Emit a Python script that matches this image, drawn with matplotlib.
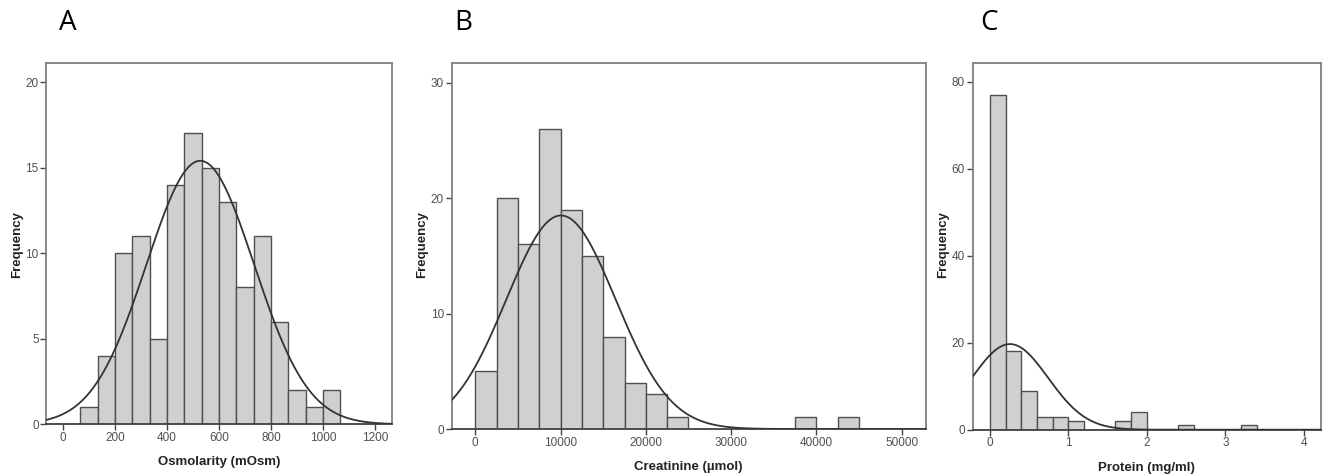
import numpy as np
import matplotlib.pyplot as plt

# ---------------- data ----------------
# Panel A: Osmolarity (mOsm)
osm_edges = [66.7, 133.3, 200.0, 266.7, 333.3, 400.0, 466.7, 533.3, 600.0,
             666.7, 733.3, 800.0, 866.7, 933.3, 1000.0, 1066.7]
osm_counts = [1, 4, 10, 11, 5, 14, 17, 15, 13, 8, 11, 6, 2, 1, 2]
osm_mean, osm_sd = 528.0, 207.0

# Panel B: Creatinine (µmol)
cre_edges = [0, 2500, 5000, 7500, 10000, 12500, 15000, 17500, 20000, 22500,
             25000, 27500, 30000, 32500, 35000, 37500, 40000, 42500, 45000]
cre_counts = [5, 20, 16, 26, 19, 15, 8, 4, 3, 1, 0, 0, 0, 0, 0, 1, 0, 1]
cre_mean, cre_sd = 10050.0, 6412.0

# Panel C: Protein (mg/ml)
pro_edges = [0.0, 0.2, 0.4, 0.6, 0.8, 1.0, 1.2, 1.4, 1.6, 1.8, 2.0, 2.2, 2.4,
             2.6, 2.8, 3.0, 3.2, 3.4]
pro_counts = [77, 18, 9, 3, 3, 2, 0, 0, 2, 4, 0, 0, 1, 0, 0, 0, 1]
pro_mean, pro_sd = 0.255, 0.486

panel_letters = ["A", "B", "C"]
x_labels = ["Osmolarity (mOsm)", "Creatinine (\u00b5mol)", "Protein (mg/ml)"]
x_ticks = [[0, 200, 400, 600, 800, 1000, 1200],
           [0, 10000, 20000, 30000, 40000, 50000],
           [0, 1, 2, 3, 4]]
y_ticks = [[0, 5, 10, 15, 20], [0, 10, 20, 30], [0, 20, 40, 60, 80]]

# ---------------- style ----------------
plt.rcParams['font.family'] = ['Liberation Sans', 'DejaVu Sans']

fig = plt.figure(figsize=(13.22, 4.76), dpi=100)

W, H = 1322.0, 476.0
# axes boxes in pixels: left, right, top, bottom
boxes = [(46.3, 391.7, 63.3, 424.3),
         (451.7, 925.7, 63.3, 429.0),
         (972.7, 1321.0, 63.3, 429.7)]
xlims = [(-64, 1264), (-2768, 52820), (-0.22, 4.22)]
ylims = [(0, 21.1), (0, 31.7), (0, 84.3)]
letter_x = [68, 463, 989]
ylabel_x = [17, 421.7, 943.3]

datasets = [(osm_edges, osm_counts, osm_mean, osm_sd),
            (cre_edges, cre_counts, cre_mean, cre_sd),
            (pro_edges, pro_counts, pro_mean, pro_sd)]

for i, (edges, counts, mu, sd) in enumerate(datasets):
    l, r, t, b = boxes[i]
    ax = fig.add_axes([l / W, 1 - b / H, (r - l) / W, (b - t) / H])
    edges = np.asarray(edges, dtype=float)
    counts = np.asarray(counts, dtype=float)
    widths = np.diff(edges)
    mask = counts > 0
    ax.bar(edges[:-1][mask], counts[mask], width=widths[mask], align='edge',
           color='#d0d0d0', edgecolor='#505050', linewidth=1.0, zorder=2)
    # fitted normal curve (SPSS style): N * binwidth * pdf
    n = counts.sum()
    bw = widths[0]
    xs = np.linspace(xlims[i][0], xlims[i][1], 600)
    ys = n * bw / (sd * np.sqrt(2 * np.pi)) * np.exp(-0.5 * ((xs - mu) / sd) ** 2)
    ax.plot(xs, ys, color='#333333', linewidth=1.3, zorder=3)

    ax.set_xlim(*xlims[i])
    ax.set_ylim(*ylims[i])
    ax.set_xticks(x_ticks[i])
    ax.set_yticks(y_ticks[i])
    ax.tick_params(axis='both', direction='out', length=4, width=1.0,
                   color='#444444', labelcolor='#505050', labelsize=8.5, pad=1.5)
    for s in ['top', 'right', 'left']:
        ax.spines[s].set_color('#808080')
        ax.spines[s].set_linewidth(1.3)
    ax.spines['bottom'].set_color('#404040')
    ax.spines['bottom'].set_linewidth(1.3)

    ax.set_xlabel(x_labels[i], fontsize=9.5, fontweight='bold', color='#222222',
                  labelpad=9)
    fig.text(ylabel_x[i] / W, 1 - 245 / H, "Frequency", rotation=90,
             ha='center', va='center', fontsize=9.5, fontweight='bold',
             color='#222222')
    fig.text(letter_x[i] / W, 1 - 23 / H, panel_letters[i], ha='center',
             va='center', fontsize=20, family=['Open Sans', 'DejaVu Sans'],
             color='black')

fig.savefig('out.png', dpi=100)
